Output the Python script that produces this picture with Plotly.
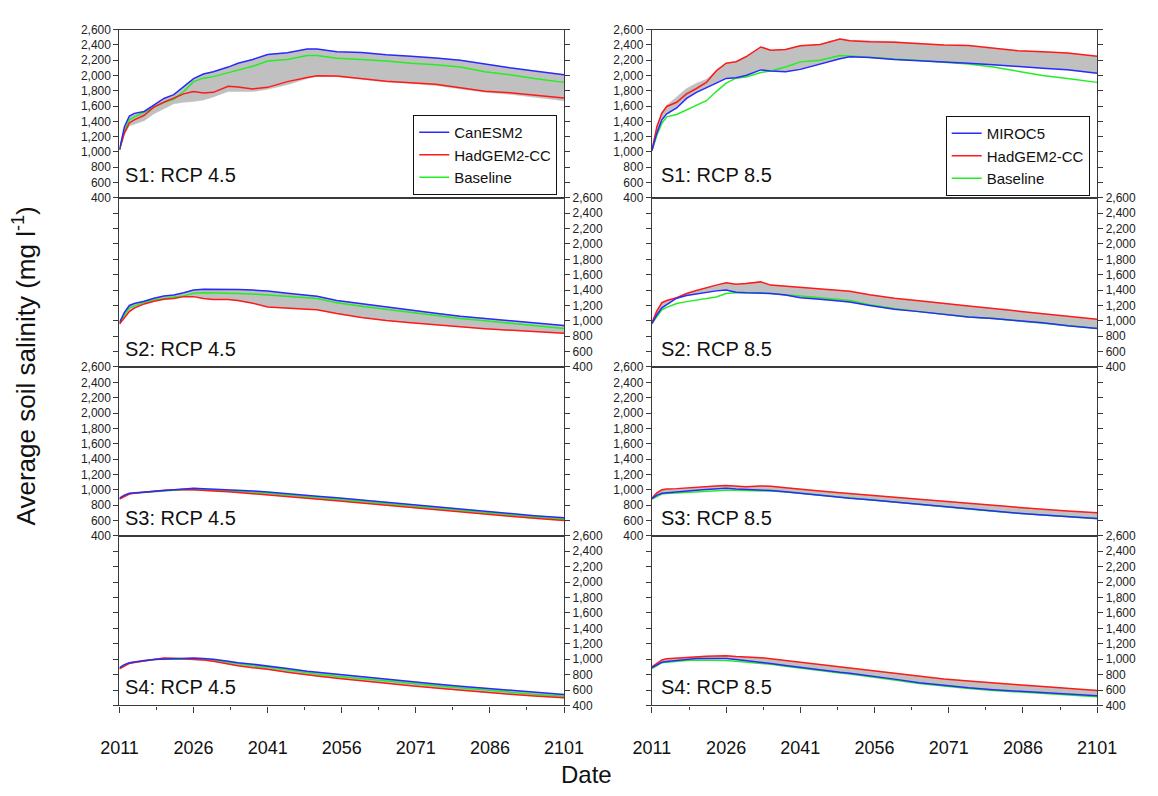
import numpy as np
import plotly.graph_objects as go

# ---------------- data ----------------
YEARS = [2011, 2012, 2013, 2014, 2016, 2018, 2020, 2022, 2024, 2026, 2028, 2030, 2033, 2035,
         2038, 2041, 2045, 2049, 2051, 2055, 2060, 2065, 2070, 2075, 2080, 2085, 2090, 2095, 2101]

# S1 RCP 4.5
S1_45_CAN = [1030, 1330, 1470, 1505, 1530, 1620, 1700, 1750, 1850, 1960, 2020, 2050, 2110, 2160,
             2210, 2275, 2296, 2345, 2345, 2310, 2300, 2270, 2250, 2230, 2200, 2145, 2100, 2060, 2010]
S1_45_HAD = [1030, 1250, 1380, 1420, 1480, 1590, 1650, 1700, 1760, 1790, 1770, 1780, 1860, 1848,
             1825, 1845, 1920, 1975, 1996, 1992, 1960, 1925, 1905, 1885, 1840, 1795, 1775, 1745, 1705]
S1_45_BASE = [1030, 1280, 1420, 1460, 1520, 1590, 1650, 1690, 1790, 1920, 1965, 1985, 2040, 2070,
              2120, 2190, 2210, 2262, 2262, 2225, 2210, 2190, 2160, 2140, 2110, 2050, 2010, 1960, 1910]
S1_45_BAND_LO = [1030, 1230, 1340, 1370, 1410, 1500, 1570, 1630, 1650, 1660, 1680, 1720, 1790, 1795,
                 1790, 1820, 1880, 1960, 1990, 1985, 1950, 1915, 1895, 1870, 1825, 1780, 1755, 1720, 1670]

# S1 RCP 8.5
S1_85_MIR = [1020, 1250, 1420, 1500, 1575, 1700, 1780, 1835, 1900, 1962, 1970, 2000, 2073, 2060,
             2048, 2080, 2150, 2220, 2245, 2235, 2210, 2195, 2175, 2160, 2140, 2115, 2095, 2075, 2030]
S1_85_HAD = [1020, 1330, 1507, 1595, 1650, 1760, 1830, 1910, 2060, 2160, 2180, 2245, 2373, 2330,
             2340, 2390, 2405, 2478, 2455, 2440, 2435, 2415, 2400, 2393, 2360, 2325, 2310, 2295, 2250]
S1_85_BASE = [1020, 1220, 1376, 1460, 1490, 1550, 1620, 1670, 1790, 1900, 1965, 1980, 2040, 2060,
              2110, 2178, 2200, 2262, 2255, 2235, 2215, 2195, 2170, 2150, 2110, 2050, 2000, 1960, 1910]
S1_85_BAND_HI = [1020, 1340, 1520, 1610, 1720, 1830, 1900, 1950, 2060, 2160, 2180, 2245, 2373, 2330,
                 2340, 2390, 2405, 2478, 2460, 2450, 2445, 2420, 2400, 2393, 2360, 2325, 2310, 2295, 2250]

# S2 RCP 4.5
S2_45_CAN = [978, 1110, 1200, 1225, 1255, 1295, 1322, 1335, 1365, 1400, 1412, 1413, 1410, 1408,
             1400, 1387, 1358, 1337, 1320, 1265, 1222, 1180, 1135, 1100, 1060, 1030, 1000, 970, 940]
S2_45_HAD = [957, 1040, 1120, 1165, 1220, 1255, 1280, 1292, 1315, 1315, 1290, 1279, 1279, 1265,
             1230, 1180, 1162, 1152, 1145, 1095, 1045, 1005, 975, 945, 922, 898, 878, 858, 837]
S2_45_BASE = [965, 1080, 1170, 1195, 1240, 1270, 1292, 1310, 1325, 1360, 1365, 1365, 1360, 1355,
              1350, 1335, 1323, 1302, 1290, 1235, 1190, 1150, 1110, 1065, 1030, 1000, 970, 935, 901]

# S2 RCP 8.5
S2_85_MIR = [965, 1080, 1170, 1210, 1295, 1330, 1352, 1370, 1390, 1400, 1372, 1365, 1360, 1357,
             1335, 1302, 1280, 1258, 1245, 1200, 1150, 1120, 1085, 1051, 1030, 1000, 975, 935, 901]
S2_85_HAD = [978, 1130, 1236, 1265, 1300, 1355, 1395, 1432, 1465, 1494, 1475, 1485, 1507, 1465,
             1450, 1440, 1420, 1395, 1385, 1340, 1295, 1260, 1230, 1193, 1160, 1128, 1100, 1062, 1021]
S2_85_BASE = [965, 1060, 1145, 1175, 1225, 1250, 1268, 1285, 1310, 1355, 1365, 1365, 1365, 1355,
              1342, 1322, 1300, 1279, 1265, 1210, 1160, 1120, 1085, 1051, 1030, 1000, 975, 940, 905]

# S3 RCP 4.5
S3_45_CAN = [890, 930, 955, 960, 970, 985, 995, 1000, 1010, 1020, 1015, 1010, 1000, 995,
             985, 970, 945, 925, 915, 895, 865, 835, 805, 775, 745, 718, 690, 662, 635]
S3_45_HAD = [880, 915, 945, 955, 968, 985, 995, 1000, 1005, 1000, 990, 985, 975, 965,
             950, 935, 910, 890, 880, 857, 828, 798, 768, 738, 710, 682, 655, 628, 600]
S3_45_BASE = [885, 925, 950, 955, 965, 980, 990, 995, 1000, 1005, 1000, 995, 985, 980,
              970, 955, 930, 910, 900, 878, 848, 818, 788, 758, 728, 700, 672, 645, 617]

# S3 RCP 8.5
S3_85_MIR = [885, 930, 955, 962, 975, 988, 995, 1005, 1015, 1020, 1010, 1005, 1000, 990,
             975, 955, 925, 900, 890, 870, 840, 810, 780, 750, 722, 695, 670, 648, 625]
S3_85_HAD = [890, 960, 1000, 1010, 1015, 1025, 1030, 1040, 1050, 1055, 1045, 1040, 1050, 1045,
             1025, 1005, 985, 962, 952, 935, 905, 878, 850, 822, 795, 770, 745, 722, 700]
S3_85_BASE = [880, 915, 945, 952, 960, 972, 980, 988, 993, 995, 995, 993, 990, 983,
              970, 952, 922, 897, 887, 866, 836, 806, 776, 748, 720, 693, 668, 645, 622]

# S4 RCP 4.5
S4_45_CAN = [890, 930, 955, 965, 985, 995, 1000, 1005, 1010, 1015, 1010, 1000, 975, 955,
             935, 915, 880, 845, 832, 805, 770, 737, 710, 680, 650, 622, 595, 570, 541]
S4_45_HAD = [875, 915, 945, 958, 980, 1000, 1015, 1012, 1005, 1000, 990, 975, 940, 915,
             890, 870, 832, 795, 782, 752, 718, 685, 657, 627, 597, 570, 545, 522, 499]
S4_45_BASE = [885, 925, 950, 960, 983, 995, 1003, 1003, 1005, 1005, 998, 990, 960, 937,
              915, 895, 858, 822, 808, 780, 746, 713, 687, 657, 627, 598, 572, 546, 519]

# S4 RCP 8.5
S4_85_MIR = [890, 930, 960, 970, 985, 997, 1008, 1010, 1010, 1010, 998, 985, 960, 945,
             920, 893, 862, 830, 818, 780, 742, 695, 660, 630, 605, 585, 565, 545, 525]
S4_85_HAD = [900, 950, 990, 1005, 1015, 1025, 1035, 1040, 1043, 1045, 1035, 1030, 1020, 1005,
             983, 960, 925, 895, 882, 855, 818, 778, 745, 718, 690, 668, 645, 620, 595]
S4_85_BASE = [880, 920, 955, 962, 975, 985, 990, 990, 988, 985, 975, 965, 950, 935,
              910, 883, 852, 820, 808, 770, 732, 685, 650, 620, 595, 573, 553, 533, 512]

PANEL_LABELS = ["S1: RCP 4.5", "S1: RCP 8.5", "S2: RCP 4.5", "S2: RCP 8.5",
                "S3: RCP 4.5", "S3: RCP 8.5", "S4: RCP 4.5", "S4: RCP 8.5"]
MODEL_NAMES = ["CanESM2", "MIROC5"]
HAD_NAME = "HadGEM2-CC"
BASE_NAME = "Baseline"
X_TICKS = [2011, 2026, 2041, 2056, 2071, 2086, 2101]
Y_RANGE = [400, 2600]

panels = [
    (S1_45_CAN, S1_45_HAD, S1_45_BASE, S1_45_BAND_LO, None),
    (S1_85_MIR, S1_85_HAD, S1_85_BASE, None, S1_85_BAND_HI),
    (S2_45_CAN, S2_45_HAD, S2_45_BASE, None, None),
    (S2_85_MIR, S2_85_HAD, S2_85_BASE, None, None),
    (S3_45_CAN, S3_45_HAD, S3_45_BASE, None, None),
    (S3_85_MIR, S3_85_HAD, S3_85_BASE, None, None),
    (S4_45_CAN, S4_45_HAD, S4_45_BASE, None, None),
    (S4_85_MIR, S4_85_HAD, S4_85_BASE, None, None),
]

# ---------------- layout geometry (pixels) ----------------
W, H = 1158, 796
COLS = [(104, 564), (655, 1115.7)]
ROWS = [(23, 194.3), (194.3, 366.4), (366.4, 538.3), (538.3, 711)]
LABEL_OFFSETS = [23, 18, 18, 19]
FONT = "Liberation Sans, Arial, sans-serif"
AXC = "#3a3a3a"
BLUE, RED, GREEN, GRAY = "#2a2aff", "#ff1a1a", "#22ee22", "#c0c0c0"


def fx(p):
    return p / W


def fy(p):
    return 1 - p / H


fig = go.Figure()
layout = {}
annotations = []

for i, (mod, had, base, extra_lo, extra_hi) in enumerate(panels):
    r, c = divmod(i, 2)
    n = i + 1
    xa = "x" if n == 1 else f"x{n}"
    ya = "y" if n == 1 else f"y{n}"
    xkey = "xaxis" if n == 1 else f"xaxis{n}"
    ykey = "yaxis" if n == 1 else f"yaxis{n}"

    lo = np.minimum(mod, had)
    hi = np.maximum(mod, had)
    if extra_lo is not None:
        lo = np.minimum(lo, extra_lo)
    if extra_hi is not None:
        hi = np.maximum(hi, extra_hi)

    fig.add_trace(go.Scatter(
        x=YEARS + YEARS[::-1], y=list(hi) + list(lo[::-1]),
        fill="toself", fillcolor=GRAY, line=dict(width=0.5, color=GRAY),
        mode="lines", showlegend=False, hoverinfo="skip", xaxis=xa, yaxis=ya))

    leg = "legend" if c == 0 else "legend2"
    show = (r == 0)
    fig.add_trace(go.Scatter(x=YEARS, y=base, mode="lines", name=BASE_NAME,
                             line=dict(color=GREEN, width=1.5), showlegend=show,
                             legend=leg, legendrank=3, xaxis=xa, yaxis=ya))
    fig.add_trace(go.Scatter(x=YEARS, y=had, mode="lines", name=HAD_NAME,
                             line=dict(color=RED, width=1.5), showlegend=show,
                             legend=leg, legendrank=2, xaxis=xa, yaxis=ya))
    fig.add_trace(go.Scatter(x=YEARS, y=mod, mode="lines", name=MODEL_NAMES[c],
                             line=dict(color=BLUE, width=1.5), showlegend=show,
                             legend=leg, legendrank=1, xaxis=xa, yaxis=ya))

    x0, x1 = COLS[c]
    y0, y1 = ROWS[r]
    bottom = (r == 3)
    xaxis = dict(domain=[fx(x0), fx(x1)], anchor=ya, range=[2011, 2101],
                 showline=True, linecolor=AXC, linewidth=1.3, mirror=True,
                 showgrid=False, zeroline=False, fixedrange=True)
    if bottom:
        xaxis.update(ticks="outside", ticklen=6, tickwidth=1.2, tickcolor=AXC,
                     tickvals=X_TICKS, ticktext=[str(v) for v in X_TICKS],
                     tickfont=dict(size=18, color="#111", family=FONT),
                     ticklabelstandoff=20,
                     minor=dict(ticks="outside", ticklen=3, tickcolor=AXC,
                                tickvals=[v + 7.5 for v in X_TICKS[:-1]]))
    else:
        xaxis.update(ticks="", showticklabels=False)
    layout[xkey] = xaxis

    side = "left" if r in (0, 2) else "right"
    layout[ykey] = dict(domain=[fy(y1), fy(y0)], anchor=xa, range=Y_RANGE,
                        side=side, showline=True, linecolor=AXC, linewidth=1.3,
                        mirror="ticks", ticks="outside", ticklen=5, tickwidth=1.1,
                        tickcolor=AXC, dtick=200, tick0=400, tickformat=",d",
                        tickfont=dict(size=12, color="#222", family=FONT),
                        showgrid=False, zeroline=False, fixedrange=True)

    annotations.append(dict(text=PANEL_LABELS[i], xref="paper", yref="paper",
                            x=fx(x0 + (4 if c == 0 else 7)), y=fy(y1 - LABEL_OFFSETS[r]),
                            xanchor="left", yanchor="middle", showarrow=False,
                            font=dict(size=20, color="#111", family=FONT)))

annotations.append(dict(text="Date", xref="paper", yref="paper", x=fx(587), y=fy(781),
                        xanchor="center", yanchor="middle", showarrow=False,
                        font=dict(size=24, color="#111", family=FONT)))
annotations.append(dict(text="Average soil salinity (mg l<sup>-1</sup>)", xref="paper",
                        yref="paper", x=fx(6), y=fy(365), xanchor="center",
                        yanchor="middle", textangle=-90, showarrow=False,
                        font=dict(size=26, color="#111", family=FONT)))

legend_common = dict(xanchor="left", yanchor="top", bgcolor="white",
                     bordercolor="#111", borderwidth=1,
                     font=dict(size=15, color="#111", family=FONT),
                     tracegroupgap=0, traceorder="normal")

fig.update_layout(
    width=W, height=H, margin=dict(l=0, r=0, t=0, b=0),
    paper_bgcolor="white", plot_bgcolor="white",
    font=dict(family=FONT),
    annotations=annotations,
    legend=dict(x=fx(408), y=fy(110), **legend_common),
    legend2=dict(x=fx(959), y=fy(111), **legend_common),
    **layout,
)

fig.write_html("out.html")
